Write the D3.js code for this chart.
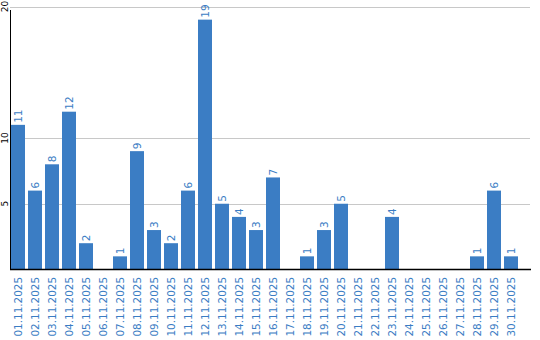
<!DOCTYPE html>
<html>
<head>
<meta charset="utf-8">
<script src="https://cdn.jsdelivr.net/npm/d3@7"></script>
<style>
  body { margin: 0; background: #fff; }
  svg { display: block; }
</style>
</head>
<body>
<svg id="chart"></svg>
<script>
// Daily counts, November 2025
const days = ["01.11.2025", "02.11.2025", "03.11.2025", "04.11.2025", "05.11.2025",
  "06.11.2025", "07.11.2025", "08.11.2025", "09.11.2025", "10.11.2025",
  "11.11.2025", "12.11.2025", "13.11.2025", "14.11.2025", "15.11.2025",
  "16.11.2025", "17.11.2025", "18.11.2025", "19.11.2025", "20.11.2025",
  "21.11.2025", "22.11.2025", "23.11.2025", "24.11.2025", "25.11.2025",
  "26.11.2025", "27.11.2025", "28.11.2025", "29.11.2025", "30.11.2025"];
const counts = [11, 6, 8, 12, 2, 0, 1, 9, 3, 2, 6, 19, 5, 4, 3, 7, 0, 1, 3, 5,
  0, 0, 4, 0, 0, 0, 0, 1, 6, 1];
const yTicks = [5, 10, 20];

const width = 540;
const height = 340;
const blue = "#3b7dc4";
const font = "DejaVu Sans, Verdana, sans-serif";

const svg = d3.select("#chart")
    .attr("width", width)
    .attr("height", height);

const x = d3.scaleBand()
    .domain(days)
    .range([11, 518])
    .paddingInner(3 / 17)
    .paddingOuter(0);

const y = d3.scaleLinear()
    .domain([0, 20])
    .range([269.5, 6.5]);

// grid lines
svg.append("g")
  .selectAll("line")
  .data(yTicks)
  .join("line")
    .attr("x1", 10)
    .attr("x2", 530)
    .attr("y1", d => Math.round(y(d)) + 0.5)
    .attr("y2", d => Math.round(y(d)) + 0.5)
    .attr("stroke", "#c8c8c8")
    .attr("stroke-width", 1);

// y tick labels (rotated)
svg.append("g")
  .selectAll("text")
  .data(yTicks)
  .join("text")
    .attr("transform", d => `translate(8, ${y(d)}) rotate(-90)`)
    .attr("text-anchor", "middle")
    .attr("font-family", font)
    .attr("font-size", 9)
    .attr("fill", "#000")
    .text(d => d);

// bars
svg.append("g")
  .selectAll("rect")
  .data(counts)
  .join("rect")
    .attr("x", (d, i) => x(days[i]))
    .attr("width", x.bandwidth())
    .attr("y", d => y(d))
    .attr("height", d => y(0) - y(d))
    .attr("fill", blue);

// value labels above bars (skip zeros)
svg.append("g")
  .selectAll("text")
  .data(counts.map((c, i) => ({ day: days[i], c })).filter(d => d.c > 0))
  .join("text")
    .attr("transform", d => `translate(${x(d.day) + x.bandwidth() / 2 + 4}, ${y(d.c) - 2}) rotate(-90)`)
    .attr("text-anchor", "start")
    .attr("font-family", font)
    .attr("font-size", 10.5)
    .attr("fill", blue)
    .text(d => d.c);

// axes lines
svg.append("line")
    .attr("x1", 10.5).attr("x2", 10.5)
    .attr("y1", 10).attr("y2", 270)
    .attr("stroke", "#000");
svg.append("line")
    .attr("x1", 10).attr("x2", 531)
    .attr("y1", 269.5).attr("y2", 269.5)
    .attr("stroke", "#000")
    .attr("stroke-width", 1.5);

// x labels (rotated)
svg.append("g")
  .selectAll("text")
  .data(days)
  .join("text")
    .attr("transform", d => `translate(${x(d) + x.bandwidth() / 2 + 4}, 277) rotate(-90)`)
    .attr("text-anchor", "end")
    .attr("font-family", font)
    .attr("font-size", 10.4)
    .attr("fill", blue)
    .text(d => d);
</script>
</body>
</html>
